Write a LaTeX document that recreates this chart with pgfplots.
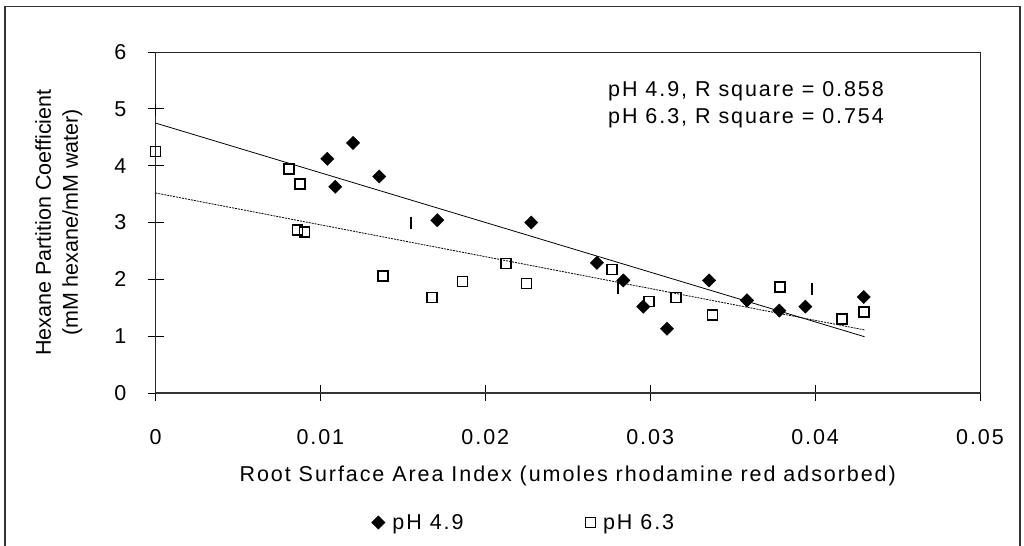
\documentclass[border=0pt]{standalone}
\usepackage{fontspec}
\setmainfont{Liberation Sans}[LetterSpace=9]
\newfontfamily\ylfont{Liberation Sans}
\usepackage{pgfplots}
\pgfplotsset{compat=1.18}
\begin{document}
\begin{tikzpicture}
\path[use as bounding box] (0,0) rectangle (1024bp,546bp);
\fill[white] (0,0) rectangle (1024bp,546bp);
\draw[line width=1.5bp, black!80] (5bp,-5bp) -- (5bp,539.3bp) -- (1020bp,539.3bp) -- (1020bp,-5bp);
\begin{axis}[
  at={(155.5bp,153bp)}, anchor=south west,
  scale only axis, width=824.5bp, height=341bp,
  xmin=0, xmax=0.05, ymin=0, ymax=6,
  clip=false,
  font=\fontsize{21.5bp}{28bp}\selectfont,
  /pgf/number format/assume math mode=true,
  xtick={0,0.01,0.02,0.03,0.04,0.05},
  xticklabels={0,0.01,0.02,0.03,0.04,0.05},
  scaled x ticks=false,
  ytick={0,1,2,3,4,5,6},
  yticklabels={0,1,2,3,4,5,6},
  xtick pos=bottom, ytick pos=left,
  tick align=center,
  major tick length=16bp,
  tick style={black, line width=0.8bp},
  axis line style={black!85, line width=0.8bp},
  yticklabel style={inner sep=0pt, anchor=east, xshift=-21bp},
  xticklabel style={inner sep=0pt, anchor=north, yshift=-28bp},
  xlabel={Root Surface Area Index (umoles rhodamine red adsorbed)},
  xlabel style={at={(axis description cs:0.5,-0.261)}, anchor=base, inner sep=0pt},
  ylabel={Hexane Partition Coefficient\\(mM hexane/mM water)},
  ylabel style={align=center, font=\ylfont\fontsize{21.5bp}{27bp}\selectfont,
    at={(axis description cs:-0.1172,0.5)}, anchor=center, inner sep=0pt},
  legend columns=2,
  legend style={draw=none, fill=none, at={(axis description cs:0.2622,-0.3798)}, anchor=west,
    inner xsep=0pt, inner ysep=0pt, outer sep=0pt,
    nodes={inner sep=0pt},
    font=\fontsize{21.5bp}{28bp}\selectfont,
    /tikz/every odd column/.append style={column sep=7.5bp},
    /tikz/every even column/.append style={column sep=122bp}},
]
% legend images
\addlegendimage{legend image code/.code={\draw[black, fill=black, mark=square*, mark size=4.7bp, mark options={rotate=45}] plot coordinates {(0bp,0bp)};}}
\addlegendentry{pH 4.9}
\addlegendimage{legend image code/.code={\draw[black, line width=1.4bp, mark=square, mark size=5bp] plot coordinates {(0bp,0bp)};}}
\addlegendentry{pH 6.3}

% trend lines
\addplot[black, line width=0.8bp, forget plot] coordinates {(0,4.75) (0.043,0.99)};
\addplot[black, line width=0.8bp, dash pattern=on 2bp off 1bp, forget plot] coordinates {(0,3.52) (0.043,1.11)};

% pH 4.9
\addplot[only marks, mark=square*, mark size=4.7bp, mark options={rotate=45}, black, forget plot] coordinates {
(0.01042,4.12) (0.01198,4.40) (0.0109,3.63) (0.01357,3.81) (0.01709,3.04)
(0.02279,3.00) (0.02677,2.29) (0.02837,1.98) (0.02958,1.52) (0.03102,1.13)
(0.03357,1.98) (0.03587,1.63) (0.03783,1.45) (0.03941,1.52) (0.04295,1.69)
};
% pH 6.3
\addplot[only marks, mark=square, mark size=5bp, black, line width=1.6bp, forget plot] coordinates {
(0,4.25) (0.00808,3.94) (0.00878,3.68) (0.00861,2.87) (0.00904,2.83)
(0.01378,2.06) (0.01677,1.68) (0.01861,1.96) (0.02126,2.28) (0.02249,1.93)
(0.02770,2.17) (0.02991,1.61) (0.03158,1.68) (0.03377,1.37) (0.03787,1.86)
(0.04163,1.30) (0.04298,1.43)
};
% bar markers
\addplot[only marks, mark=|, mark size=6bp, black, line width=1.8bp, forget plot] coordinates {
(0,4.98) (0.01549,3.00) (0.02803,1.84) (0.03979,1.83)
};
\draw[line width=1.6bp, black!80] (rel axis cs:0,0) -- (rel axis cs:1,0);
\node[anchor=base west, inner sep=0pt] at (axis cs:0.02744,5.225) {pH 4.9, R square = 0.858};
\node[anchor=base west, inner sep=0pt] at (axis cs:0.02744,4.743) {pH 6.3, R square = 0.754};
\end{axis}
\end{tikzpicture}
\end{document}
